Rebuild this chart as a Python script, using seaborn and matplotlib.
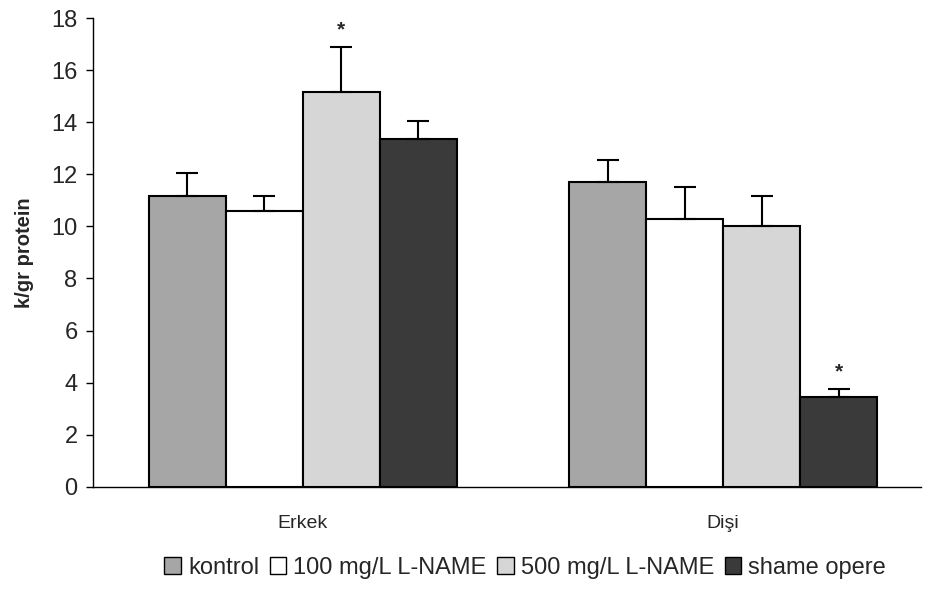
import matplotlib
matplotlib.use("Agg")
import matplotlib.pyplot as plt
import seaborn as sns
import pandas as pd
import numpy as np
from matplotlib.patches import Patch

groups = ["Erkek", "Dişi"]
series = ["kontrol", "100 mg/L L-NAME", "500 mg/L L-NAME", "shame opere"]
means = {
    "kontrol": [11.15, 11.7],
    "100 mg/L L-NAME": [10.6, 10.3],
    "500 mg/L L-NAME": [15.15, 10.0],
    "shame opere": [13.35, 3.45],
}
errors = {
    "kontrol": [0.9, 0.85],
    "100 mg/L L-NAME": [0.55, 1.2],
    "500 mg/L L-NAME": [1.72, 1.18],
    "shame opere": [0.7, 0.3],
}
stars = {("500 mg/L L-NAME", "Erkek"), ("shame opere", "Dişi")}
colors = ["#a6a6a6", "#ffffff", "#d6d6d6", "#3a3a3a"]
yticks = [0, 2, 4, 6, 8, 10, 12, 14, 16, 18]

rows = []
for s in series:
    for g, v in zip(groups, means[s]):
        rows.append({"group": g, "series": s, "value": v})
df = pd.DataFrame(rows)

sns.set_theme(style="white")
plt.rcParams["font.family"] = ["Liberation Sans", "DejaVu Sans"]

fig = plt.figure(figsize=(9.28, 6.01), dpi=100)
ax = fig.add_axes([0.1, 0.19, 0.892, 0.78])

sns.barplot(data=df, x="group", y="value", hue="series", order=groups,
            hue_order=series, palette=colors, width=0.733, errorbar=None,
            edgecolor="black", linewidth=1.5, ax=ax, legend=False)

# error bars (upper only) and stars
for cont, s in zip(ax.containers, series):
    for patch, g, v, e in zip(cont.patches, groups, means[s], errors[s]):
        xc = patch.get_x() + patch.get_width() / 2
        ax.errorbar([xc], [v], yerr=[[0], [e]], fmt="none", ecolor="black",
                    elinewidth=1.5, capsize=8, capthick=1.5, zorder=1)
        if (s, g) in stars:
            ax.text(xc, v + e + 0.3, "*", ha="center", va="bottom",
                    fontsize=15, fontweight="bold")

ax.set_ylim(0, 18)
ax.set_xlim(-0.5, 1.47)
ax.set_yticks(yticks)
ax.set_yticklabels([str(t) for t in yticks], fontsize=17)
ax.set_xticks([0, 1])
ax.set_xticklabels(groups, fontsize=14)
ax.set_xlabel("")
ax.set_ylabel("k/gr protein", fontsize=14.5, fontweight="bold", labelpad=12)
for sp in ["top", "right"]:
    ax.spines[sp].set_visible(False)
for sp in ["left", "bottom"]:
    ax.spines[sp].set_color("black")
    ax.spines[sp].set_linewidth(1.0)
ax.tick_params(axis="y", direction="out", length=5, width=1, color="black", left=True, pad=6)
ax.tick_params(axis="x", length=0, pad=20)

handles = [Patch(facecolor=c, edgecolor="black", linewidth=1.0) for c in colors]
fig.legend(handles, series, loc="center", bbox_to_anchor=(0.566, 0.055), ncol=4,
           frameon=False, fontsize=17, handlelength=0.7, handleheight=0.7,
           handletextpad=0.3, columnspacing=0.45)

fig.savefig("out.png", dpi=100)
